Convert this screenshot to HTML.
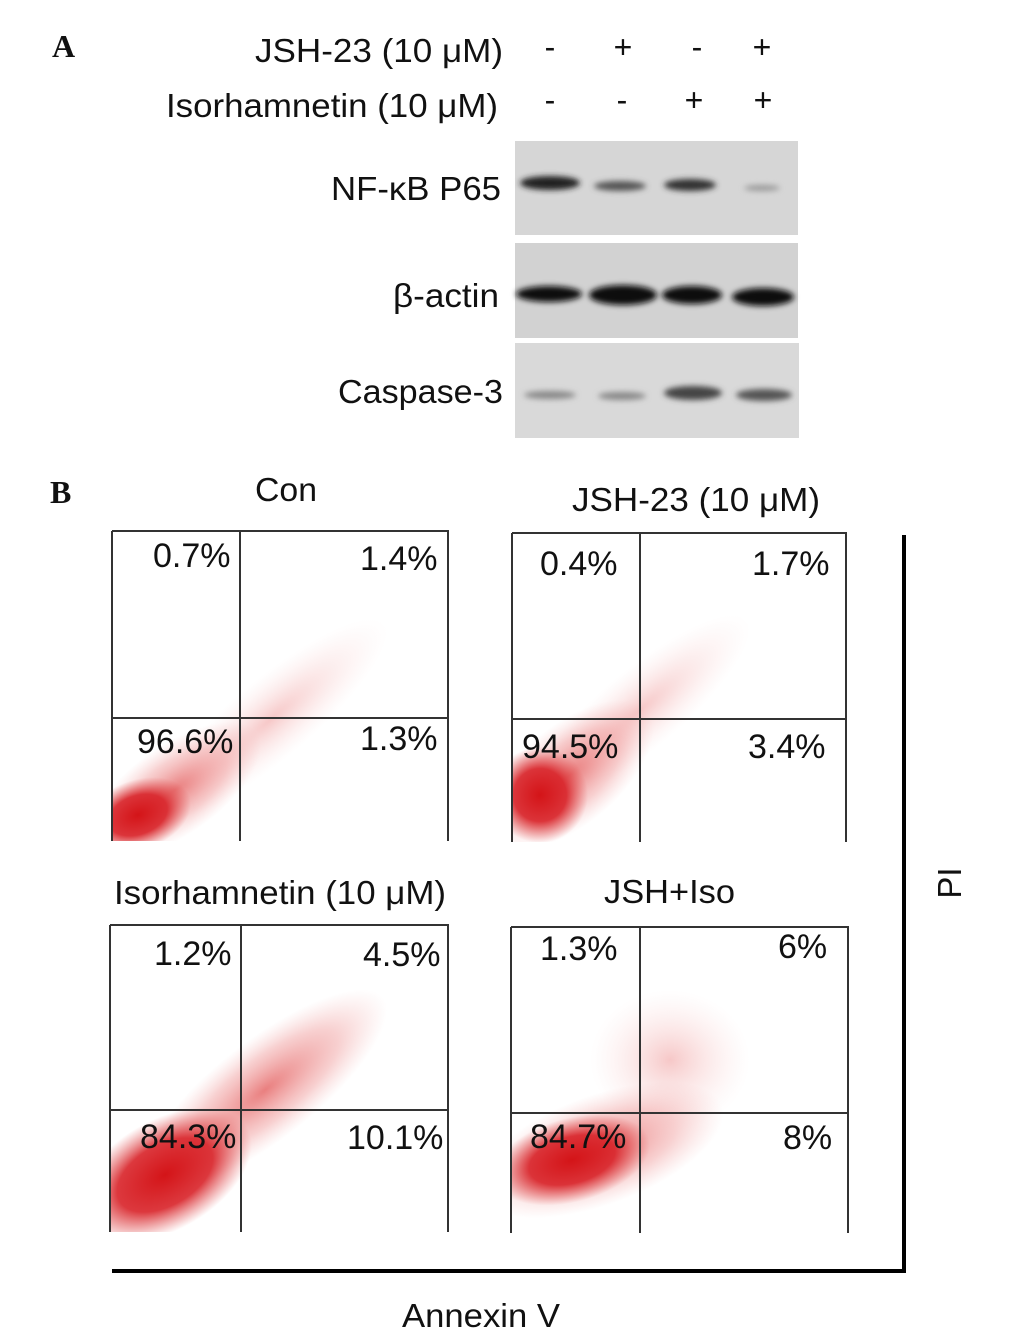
<!DOCTYPE html>
<html><head><meta charset="utf-8"><style>
html,body{margin:0;padding:0;background:#fff;}
svg{display:block}
text{font-family:"Liberation Sans",sans-serif;fill:#111}
</style></head><body>
<svg width="1033" height="1341" viewBox="0 0 1033 1341" xmlns="http://www.w3.org/2000/svg">
<defs>
<filter id="b" x="-20%" y="-50%" width="140%" height="200%"><feGaussianBlur stdDeviation="3"/></filter>
<radialGradient id="core"><stop offset="0" stop-color="#d41418" stop-opacity="1"/><stop offset="0.55" stop-color="#d82228" stop-opacity="0.9"/><stop offset="1" stop-color="#e05050" stop-opacity="0"/></radialGradient>
<radialGradient id="halo"><stop offset="0" stop-color="#e04848" stop-opacity="0.7"/><stop offset="0.6" stop-color="#ea7878" stop-opacity="0.35"/><stop offset="1" stop-color="#f0a0a0" stop-opacity="0"/></radialGradient>
<radialGradient id="faint"><stop offset="0" stop-color="#ee9090" stop-opacity="0.5"/><stop offset="1" stop-color="#f8d0d0" stop-opacity="0"/></radialGradient>
<clipPath id="c1"><rect x="112" y="531" width="336" height="310"/></clipPath>
<clipPath id="c2"><rect x="512" y="533" width="334" height="309"/></clipPath>
<clipPath id="c3"><rect x="110" y="925" width="338" height="307"/></clipPath>
<clipPath id="c4"><rect x="511" y="927" width="337" height="306"/></clipPath>
</defs>
<text x="52" y="57" font-weight="bold" font-size="32" style="font-family:'Liberation Serif',serif">A</text>
<g font-size="33">
<text x="255" y="62" textLength="248" lengthAdjust="spacingAndGlyphs">JSH-23 (10 μM)</text>
<text x="166" y="117" textLength="332" lengthAdjust="spacingAndGlyphs">Isorhamnetin (10 μM)</text>
<text x="331" y="200" textLength="170" lengthAdjust="spacingAndGlyphs">NF-κB P65</text>
<text x="393" y="307" textLength="106" lengthAdjust="spacingAndGlyphs">β-actin</text>
<text x="338" y="403" textLength="165" lengthAdjust="spacingAndGlyphs">Caspase-3</text>
</g>
<g font-size="32" text-anchor="middle">
<text x="550" y="58">-</text><text x="623" y="58">+</text><text x="697" y="58">-</text><text x="762" y="58">+</text>
<text x="550" y="111">-</text><text x="622" y="111">-</text><text x="694" y="111">+</text><text x="763" y="111">+</text>
</g>
<rect x="515" y="141" width="283" height="94" fill="#d6d6d6"/>
<rect x="515" y="243" width="283" height="95" fill="#d2d2d2"/>
<rect x="515" y="343" width="284" height="95" fill="#d9d9d9"/>
<g filter="url(#b)">
<ellipse cx="550" cy="183" rx="30" ry="7" fill="#222"/>
<ellipse cx="620" cy="186" rx="26" ry="5" fill="#555"/>
<ellipse cx="690" cy="185" rx="26" ry="6" fill="#333"/>
<ellipse cx="762" cy="188" rx="18" ry="3" fill="#999"/>
<ellipse cx="549" cy="294" rx="33" ry="8" fill="#111"/>
<ellipse cx="623" cy="295" rx="34" ry="10" fill="#111"/>
<ellipse cx="692" cy="295" rx="30" ry="9" fill="#111"/>
<ellipse cx="763" cy="297" rx="31" ry="9" fill="#111"/>
<ellipse cx="550" cy="395" rx="26" ry="4" fill="#888"/>
<ellipse cx="622" cy="396" rx="24" ry="4" fill="#888"/>
<ellipse cx="693" cy="393" rx="29" ry="7" fill="#444"/>
<ellipse cx="764" cy="395" rx="28" ry="6" fill="#555"/>
</g>
<text x="50" y="503" font-weight="bold" font-size="32" style="font-family:'Liberation Serif',serif">B</text>
<g font-size="33">
<text x="255" y="501" textLength="62" lengthAdjust="spacingAndGlyphs">Con</text>
<text x="572" y="511" textLength="248" lengthAdjust="spacingAndGlyphs">JSH-23 (10 μM)</text>
<text x="114" y="904" textLength="332" lengthAdjust="spacingAndGlyphs">Isorhamnetin (10 μM)</text>
<text x="604" y="903" textLength="131" lengthAdjust="spacingAndGlyphs">JSH+Iso</text>
</g>

<!-- Con -->
<g clip-path="url(#c1)">
<ellipse cx="270" cy="720" rx="150" ry="40" transform="rotate(-40 270 720)" fill="url(#faint)"/>
<ellipse cx="175" cy="790" rx="100" ry="45" transform="rotate(-35 175 790)" fill="url(#halo)"/>
<ellipse cx="138" cy="815" rx="55" ry="35" transform="rotate(-20 138 815)" fill="url(#core)"/>
</g>
<g>
<path d="M112 531V841M112 531H448V841" fill="none" stroke="#333" stroke-width="2"/>
<line x1="240" y1="531" x2="240" y2="841" stroke="#333" stroke-width="2"/>
<line x1="112" y1="718" x2="448" y2="718" stroke="#333" stroke-width="2"/>
<g font-size="34"><text x="153" y="567">0.7%</text><text x="360" y="570">1.4%</text><text x="137" y="753">96.6%</text><text x="360" y="750">1.3%</text></g>
</g>
<!-- JSH -->
<g clip-path="url(#c2)">
<ellipse cx="640" cy="710" rx="140" ry="40" transform="rotate(-40 640 710)" fill="url(#faint)"/>
<ellipse cx="570" cy="775" rx="100" ry="50" transform="rotate(-40 570 775)" fill="url(#halo)"/>
<ellipse cx="540" cy="795" rx="48" ry="48" fill="url(#core)"/>
</g>
<g>
<path d="M512 533V842M512 533H846V842" fill="none" stroke="#333" stroke-width="2"/>
<line x1="640" y1="533" x2="640" y2="842" stroke="#333" stroke-width="2"/>
<line x1="512" y1="719" x2="846" y2="719" stroke="#333" stroke-width="2"/>
<g font-size="34"><text x="540" y="575">0.4%</text><text x="752" y="575">1.7%</text><text x="522" y="758">94.5%</text><text x="748" y="758">3.4%</text></g>
</g>
<!-- Iso -->
<g clip-path="url(#c3)">
<ellipse cx="265" cy="1090" rx="150" ry="50" transform="rotate(-38 265 1090)" fill="url(#halo)"/>
<ellipse cx="165" cy="1175" rx="95" ry="55" transform="rotate(-30 165 1175)" fill="url(#core)"/>
</g>
<g>
<path d="M110 925V1232M110 925H448V1232" fill="none" stroke="#333" stroke-width="2"/>
<line x1="241" y1="925" x2="241" y2="1232" stroke="#333" stroke-width="2"/>
<line x1="110" y1="1110" x2="448" y2="1110" stroke="#333" stroke-width="2"/>
<g font-size="34"><text x="154" y="965">1.2%</text><text x="363" y="966">4.5%</text><text x="140" y="1148">84.3%</text><text x="347" y="1149">10.1%</text></g>
</g>
<!-- JSH+Iso -->
<g clip-path="url(#c4)">
<ellipse cx="670" cy="1060" rx="80" ry="70" fill="url(#faint)"/>
<ellipse cx="600" cy="1150" rx="130" ry="55" transform="rotate(-20 600 1150)" fill="url(#halo)"/>
<ellipse cx="572" cy="1160" rx="80" ry="42" transform="rotate(-15 572 1160)" fill="url(#core)"/>
</g>
<g>
<path d="M511 927V1233M511 927H848V1233" fill="none" stroke="#333" stroke-width="2"/>
<line x1="640" y1="927" x2="640" y2="1233" stroke="#333" stroke-width="2"/>
<line x1="511" y1="1113" x2="848" y2="1113" stroke="#333" stroke-width="2"/>
<g font-size="34"><text x="540" y="960">1.3%</text><text x="778" y="958">6%</text><text x="530" y="1148">84.7%</text><text x="783" y="1149">8%</text></g>
</g>
<line x1="904" y1="535" x2="904" y2="1272" stroke="#000" stroke-width="4"/>
<line x1="112" y1="1271" x2="906" y2="1271" stroke="#000" stroke-width="4"/>
<text x="0" y="0" font-size="33" text-anchor="middle" transform="translate(961 883) rotate(-90)">PI</text>
<text x="402" y="1327" font-size="33" textLength="158" lengthAdjust="spacingAndGlyphs">Annexin V</text>
</svg>
</body></html>
